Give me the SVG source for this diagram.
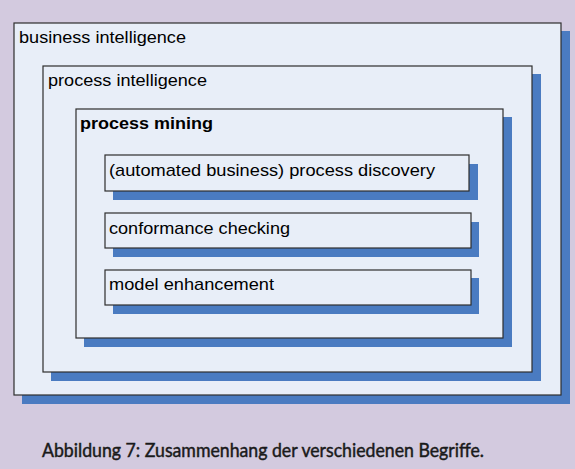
<svg xmlns="http://www.w3.org/2000/svg" width="575" height="469" viewBox="0 0 575 469">
<style>
.bg{fill:#d3cadf}
.shadow{fill:#4a7bc1}
.box{fill:#e8eef8;stroke:#2e2e2e;stroke-width:1.2}
.t{font-family:"Liberation Sans",Arial,sans-serif;font-size:17px;fill:#000}
.b{font-weight:bold}
.cap{font-family:Lato,"DejaVu Sans",sans-serif;font-size:19px;fill:#1a1a1a;stroke:#1a1a1a;stroke-width:0.45}
</style>
<rect class="bg" x="0" y="0" width="575" height="469"/>
<g id="business-intelligence">
<rect class="shadow" x="22" y="31" width="548" height="373"/>
<rect class="box" x="14" y="23" width="547" height="372"/>
<text class="t" x="19" y="43" textLength="167" lengthAdjust="spacingAndGlyphs">business intelligence</text>
</g>
<g id="process-intelligence">
<rect class="shadow" x="51" y="74" width="490" height="307"/>
<rect class="box" x="43" y="66" width="489" height="306"/>
<text class="t" x="48" y="86" textLength="159" lengthAdjust="spacingAndGlyphs">process intelligence</text>
</g>
<g id="process-mining">
<rect class="shadow" x="84" y="117" width="428" height="230"/>
<rect class="box" x="76" y="109" width="427" height="229"/>
<text class="t b" x="80" y="129" textLength="133" lengthAdjust="spacingAndGlyphs">process mining</text>
</g>
<g id="process-discovery">
<rect class="shadow" x="113" y="164" width="365" height="36"/>
<rect class="box" x="105" y="155" width="364" height="36"/>
<text class="t" x="109" y="176" textLength="326" lengthAdjust="spacingAndGlyphs">(automated business) process discovery</text>
</g>
<g id="conformance-checking">
<rect class="shadow" x="113" y="222" width="366" height="35"/>
<rect class="box" x="105" y="213" width="366" height="35"/>
<text class="t" x="109" y="234" textLength="181" lengthAdjust="spacingAndGlyphs">conformance checking</text>
</g>
<g id="model-enhancement">
<rect class="shadow" x="113" y="278" width="366" height="36"/>
<rect class="box" x="105" y="270" width="366" height="35"/>
<text class="t" x="109" y="290" textLength="165" lengthAdjust="spacingAndGlyphs">model enhancement</text>
</g>
<g id="connectors"></g>
<text class="cap" x="42" y="457" textLength="442" lengthAdjust="spacingAndGlyphs">Abbildung 7: Zusammenhang der verschiedenen Begriffe.</text>
</svg>
